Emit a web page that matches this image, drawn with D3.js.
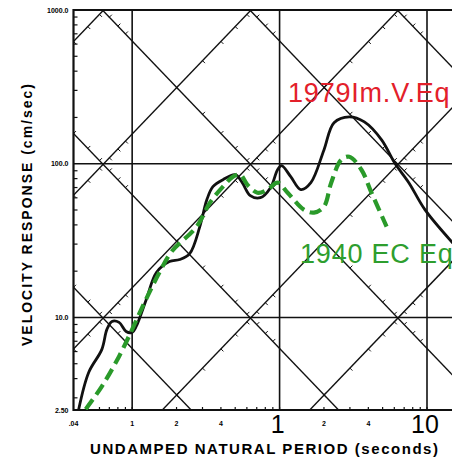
<!DOCTYPE html>
<html>
<head>
<meta charset="utf-8">
<script src="https://cdn.jsdelivr.net/npm/d3@7"></script>
<style>
  body { margin: 0; background: #fff; }
  text { font-family: "Liberation Sans", Arial, sans-serif; }
</style>
</head>
<body>
<div id="chart"></div>
<script>
// 1979 Imperial Valley record (solid black), period in s, velocity in cm/sec
const imvPeriod = [0.0434, 0.0507, 0.0623, 0.0674, 0.0729, 0.0815, 0.091, 0.1, 0.1065, 0.1247, 0.146, 0.179, 0.21, 0.2455, 0.2877, 0.321, 0.353, 0.413, 0.5, 0.558, 0.633, 0.741, 0.868, 0.969, 1.032, 1.19, 1.393, 1.63, 2.0, 2.34, 2.97, 3.76, 4.92, 6.04, 7.53, 9.68, 15.3];
const imvVel = [2.53, 4.39, 6.2, 8.36, 9.42, 9.29, 8.11, 8.0, 8.74, 13.1, 19.6, 23.1, 23.8, 26.0, 39.0, 58.3, 70.9, 78.7, 84.8, 75.3, 62.0, 60.1, 69.8, 91.4, 97.1, 82.4, 67.8, 75.3, 123, 185, 202, 187, 143, 101, 75.3, 50.3, 29.8];

// 1940 El Centro record (green dashed)
const ecPeriod = [0.0484, 0.0623, 0.0815, 0.1, 0.1153, 0.1306, 0.153, 0.185, 0.274, 0.337, 0.413, 0.484, 0.541, 0.604, 0.707, 0.828, 0.969, 1.134, 1.46, 1.71, 2.0, 2.24, 2.62, 2.97, 3.59, 4.2, 5.32];
const ecVel = [2.53, 3.56, 5.58, 8.36, 11.3, 14.5, 19.6, 26.8, 39.0, 55.8, 70.9, 82.4, 84.8, 73.1, 64.8, 67.8, 75.3, 64.8, 50.3, 48.1, 52.6, 75.3, 106, 111, 91.4, 64.8, 39.0];

// grid values
const periodGrid = [0.1, 1, 10];
const velGrid = [10, 100];
const accelLines = [0.001, 0.01, 0.1, 1, 10, 100];   // g
const dispLines = [0.01, 0.1, 1, 10, 100, 1000];     // cm
const velLabels = ["2.50", "10.0", "100.0", "1000.0"];
const velLabelVals = [2.5, 10, 100, 1000];
const smallPeriodLabels = [[0.04, ".04"], [0.1, "1"], [0.2, "2"], [0.4, "4"], [2, "2"], [4, "4"]];
const bigPeriodLabels = [[1, "1"], [10, "10"]];

const W = 452, H = 459;
const g = 981;

const x = d3.scaleLog().domain([0.04, 10]).range([73.5, 427]);
const y = d3.scaleLog().domain([2.5, 1000]).range([410, 10]);
const pLeft = 73.5, pTop = 10, pBottom = 410, pRight = W + 5;

const svg = d3.select("#chart").append("svg")
  .attr("width", W).attr("height", H);

svg.append("clipPath").attr("id", "plot")
  .append("rect").attr("x", pLeft).attr("y", pTop)
  .attr("width", pRight - pLeft).attr("height", pBottom - pTop);

const grid = svg.append("g").attr("clip-path", "url(#plot)");

// vertical / horizontal decade lines
grid.selectAll(".vg").data(periodGrid).join("line")
  .attr("x1", d => x(d)).attr("x2", d => x(d))
  .attr("y1", pTop).attr("y2", pBottom)
  .attr("stroke", "#111").attr("stroke-width", 1.6);
grid.selectAll(".hg").data(velGrid).join("line")
  .attr("x1", pLeft).attr("x2", pRight)
  .attr("y1", d => y(d)).attr("y2", d => y(d))
  .attr("stroke", "#111").attr("stroke-width", 1.6);

// diagonal lines: constant acceleration (rising) and displacement (falling)
const tMin = 0.005, tMax = 200;
function accV(a, t) { return a * g * t / (2 * Math.PI); }
function dispV(dd, t) { return 2 * Math.PI * dd / t; }

grid.selectAll(".acc").data(accelLines).join("line")
  .attr("x1", x(tMin)).attr("y1", d => y(accV(d, tMin)))
  .attr("x2", x(tMax)).attr("y2", d => y(accV(d, tMax)))
  .attr("stroke", "#111").attr("stroke-width", 1.4);
grid.selectAll(".disp").data(dispLines).join("line")
  .attr("x1", x(tMin)).attr("y1", d => y(dispV(d, tMin)))
  .attr("x2", x(tMax)).attr("y2", d => y(dispV(d, tMax)))
  .attr("stroke", "#111").attr("stroke-width", 1.4);

// little log ticks along the diagonals
let diagTicks = [];
for (let n = -3; n <= 2; n++) {
  for (let j = 2; j <= 9; j++) {
    const t = j * Math.pow(10, n);
    accelLines.forEach(a => diagTicks.push({ px: x(t), py: y(accV(a, t)), dx: 2.5, dy: 2.5 }));
    dispLines.forEach(dd => diagTicks.push({ px: x(t), py: y(dispV(dd, t)), dx: 2.5, dy: -2.5 }));
  }
}
grid.selectAll(".dt").data(diagTicks).join("line")
  .attr("x1", d => d.px).attr("y1", d => d.py)
  .attr("x2", d => d.px + d.dx).attr("y2", d => d.py + d.dy)
  .attr("stroke", "#111").attr("stroke-width", 1);

// minor ticks on left and bottom axes
let vMinor = [];
[1, 10, 100].forEach(b => { for (let j = 2; j <= 9; j++) { const v = j * b; if (v > 2.5 && v < 1000) vMinor.push(v); } });
svg.selectAll(".vt").data(vMinor).join("line")
  .attr("x1", pLeft).attr("x2", pLeft + 4)
  .attr("y1", d => y(d)).attr("y2", d => y(d))
  .attr("stroke", "#111").attr("stroke-width", 1.2);
let tMinor = [];
[0.01, 0.1, 1, 10].forEach(b => { for (let j = 1; j <= 9; j++) { const t = j * b; if (t > 0.04 && t < 16) tMinor.push(t); } });
svg.selectAll(".tt").data(tMinor).join("line")
  .attr("x1", d => x(d)).attr("x2", d => x(d))
  .attr("y1", pBottom).attr("y2", pBottom - 3)
  .attr("stroke", "#111").attr("stroke-width", 1.2);

// frame
svg.append("path")
  .attr("d", `M${pRight},${pTop}H${pLeft}V${pBottom}H${pRight}`)
  .attr("fill", "none").attr("stroke", "#111").attr("stroke-width", 2.2);

// response curves
const line = d3.line().curve(d3.curveCatmullRom.alpha(0.5))
  .x(d => x(d[0])).y(d => y(d[1]));
const curves = svg.append("g").attr("clip-path", "url(#plot)");
curves.append("path")
  .attr("d", line(d3.zip(imvPeriod, imvVel)))
  .attr("fill", "none").attr("stroke", "#111").attr("stroke-width", 2.8);
curves.append("path")
  .attr("d", line(d3.zip(ecPeriod, ecVel)))
  .attr("fill", "none").attr("stroke", "#2a9a2a").attr("stroke-width", 4.2)
  .attr("stroke-dasharray", "12,6");

// tick labels
svg.selectAll(".vl").data(velLabelVals).join("text")
  .attr("x", pLeft - 5).attr("y", d => y(d) + 2.5)
  .attr("text-anchor", "end").attr("font-size", 7).attr("font-weight", "bold")
  .text((d, i) => velLabels[i]);
svg.selectAll(".sl").data(smallPeriodLabels).join("text")
  .attr("x", d => x(d[0])).attr("y", 426)
  .attr("text-anchor", "middle").attr("font-size", 7).attr("font-weight", "bold")
  .text(d => d[1]);
svg.selectAll(".bl").data(bigPeriodLabels).join("text")
  .attr("x", d => x(d[0]) - 2).attr("y", 433)
  .attr("text-anchor", "middle").attr("font-size", 25)
  .text(d => d[1]);

// axis titles
svg.append("text")
  .attr("transform", "translate(32,215) rotate(-90)")
  .attr("text-anchor", "middle").attr("font-size", 14).attr("font-weight", "bold")
  .attr("textLength", 262).attr("lengthAdjust", "spacing")
  .text("VELOCITY RESPONSE (cm/sec)");
svg.append("text")
  .attr("x", 90).attr("y", 454)
  .attr("font-size", 15).attr("font-weight", "bold")
  .attr("textLength", 348).attr("lengthAdjust", "spacing")
  .text("UNDAMPED NATURAL PERIOD (seconds)");

// record labels
svg.append("text")
  .attr("x", 288).attr("y", 102)
  .attr("font-size", 27).attr("fill", "#e3202a").attr("letter-spacing", 0.8)
  .text("1979Im.V.Eq");
svg.append("text")
  .attr("x", 300).attr("y", 263)
  .attr("font-size", 27).attr("fill", "#2e9e2e").attr("letter-spacing", 0.8)
  .text("1940 EC Eq");
</script>
</body>
</html>
